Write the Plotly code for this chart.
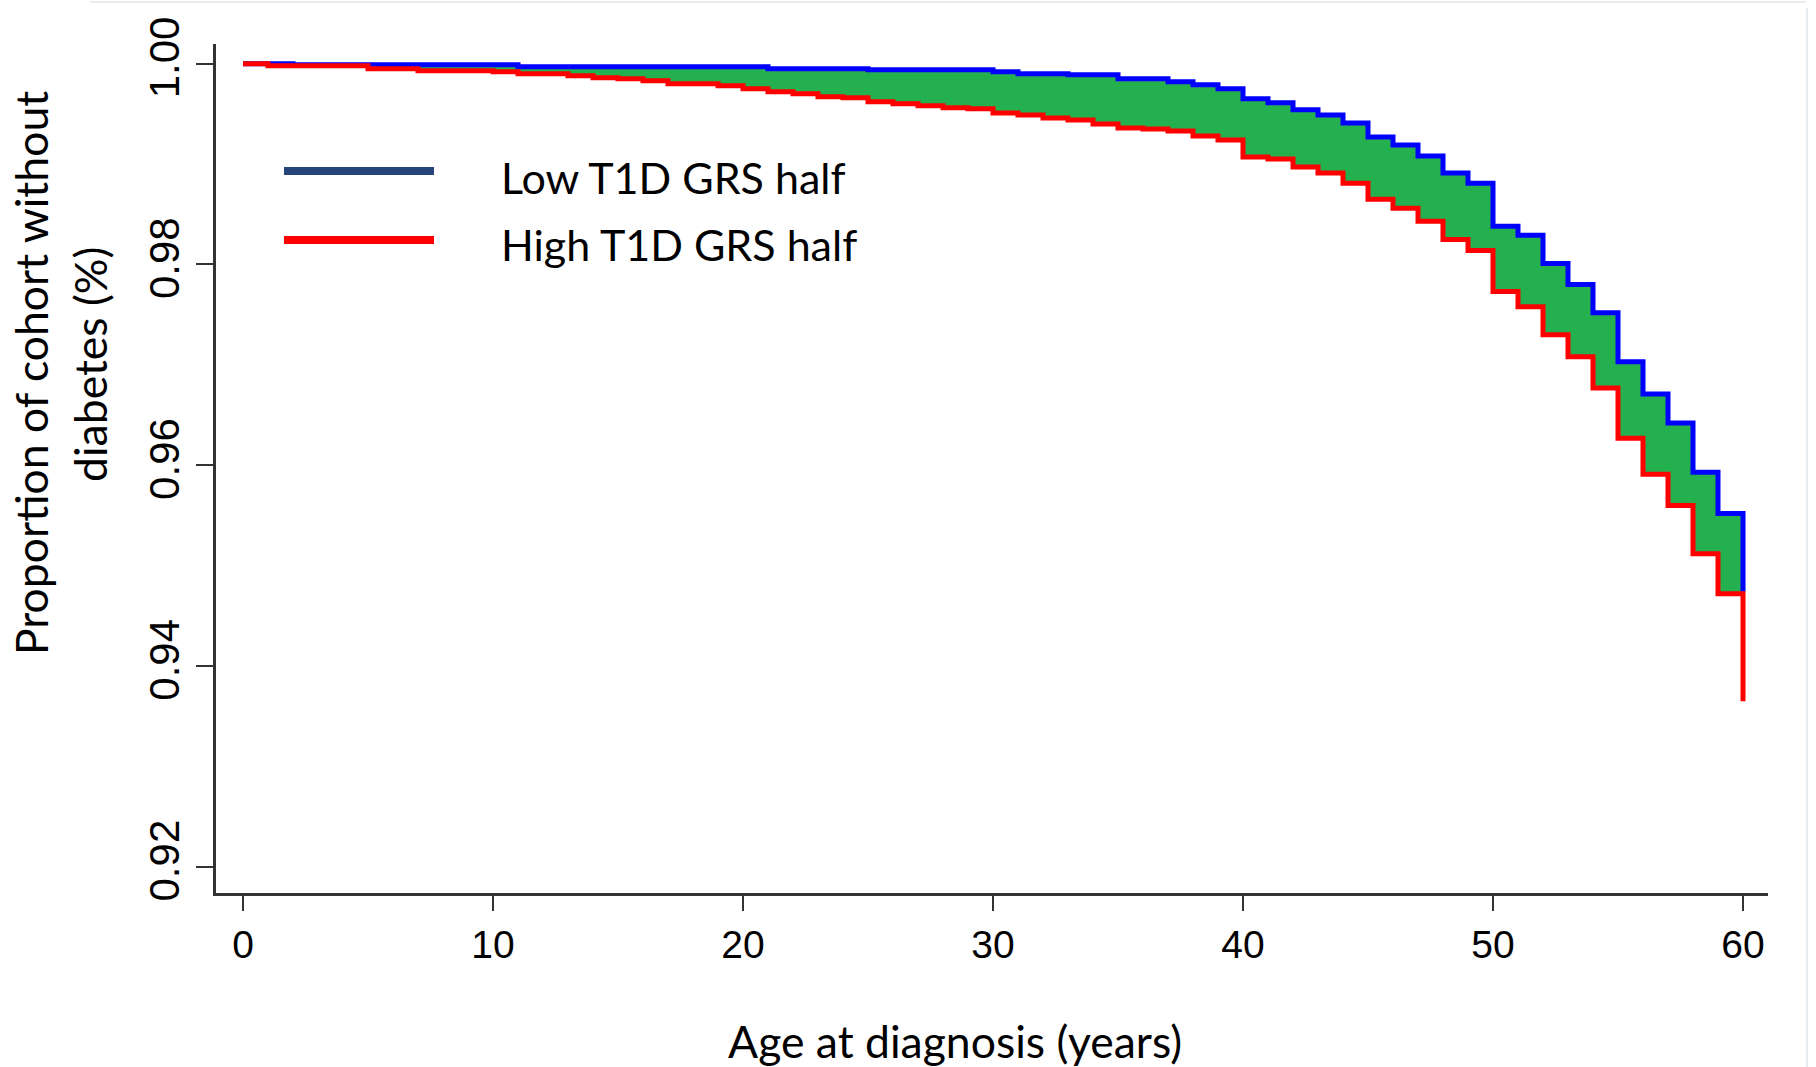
import plotly.graph_objects as go

ages = list(range(0, 61))
low_grs = [1.0000, 1.0000, 0.9999, 0.9999, 0.9999, 0.9999, 0.9999, 0.9999, 0.9999, 0.9999,
           0.9999, 0.9997, 0.9997, 0.9997, 0.9997, 0.9997, 0.9997, 0.9997, 0.9997, 0.9997,
           0.9997, 0.9995, 0.9995, 0.9995, 0.9995, 0.9994, 0.9994, 0.9994, 0.9994, 0.9994,
           0.9992, 0.9990, 0.9990, 0.9989, 0.9989, 0.9985, 0.9985, 0.9982, 0.9979, 0.9975,
           0.9965, 0.9961, 0.9954, 0.9949, 0.9941, 0.9927, 0.9919, 0.9908, 0.9891, 0.9881,
           0.9838, 0.9829, 0.9801, 0.9780, 0.9752, 0.9703, 0.9671, 0.9642, 0.9593, 0.9552,
           0.9474]
high_grs = [1.0000, 0.9998, 0.9998, 0.9998, 0.9998, 0.9995, 0.9995, 0.9993, 0.9993, 0.9993,
            0.9992, 0.9990, 0.9990, 0.9988, 0.9986, 0.9985, 0.9983, 0.9980, 0.9980, 0.9978,
            0.9975, 0.9972, 0.9970, 0.9967, 0.9966, 0.9962, 0.9960, 0.9958, 0.9956, 0.9955,
            0.9951, 0.9949, 0.9946, 0.9944, 0.9940, 0.9936, 0.9935, 0.9933, 0.9928, 0.9924,
            0.9907, 0.9905, 0.9897, 0.9891, 0.9881, 0.9865, 0.9856, 0.9843, 0.9825, 0.9814,
            0.9773, 0.9758, 0.9730, 0.9708, 0.9677, 0.9627, 0.9591, 0.9560, 0.9512, 0.9472,
            0.9365]
x_ticks = [0, 10, 20, 30, 40, 50, 60]
y_ticks = [0.92, 0.94, 0.96, 0.98, 1.00]
y_tick_labels = ["0.92", "0.94", "0.96", "0.98", "1.00"]
series_names = ["Low T1D GRS half", "High T1D GRS half"]

W, H = 1816, 1067
L, R, T, B = 216, 48, 44, 174
PW, PH = W - L - R, H - T - B


def px(x):
    return (x - L) / PW


def py(y):
    return (H - B - y) / PH


LABEL_FONT = "Lato, Open Sans, sans-serif"
TICK_FONT = "Liberation Sans, Arial, sans-serif"

fig = go.Figure()
# base for fill (invisible)
fig.add_trace(go.Scatter(x=ages, y=high_grs, mode="lines", line=dict(width=0, shape="hv", color="rgba(0,0,0,0)"),
                         showlegend=False, hoverinfo="skip"))
fig.add_trace(go.Scatter(x=ages, y=low_grs, mode="lines", name=series_names[0],
                         line=dict(width=5, shape="hv", color="#0000FF"),
                         fill="tonexty", fillcolor="#25B04F", showlegend=False))
fig.add_trace(go.Scatter(x=ages, y=high_grs, mode="lines", name=series_names[1],
                         line=dict(width=5, shape="hv", color="#FF0000"), showlegend=False))

fig.update_xaxes(range=[-1.08, 61.0], tickvals=x_ticks, ticks="outside", ticklen=15, tickwidth=2,
                 tickcolor="#333333", showline=True, linecolor="#333333", linewidth=2.5,
                 showgrid=False, zeroline=False,
                 tickfont=dict(family=TICK_FONT, size=39, color="black"))
fig.update_yaxes(range=[0.9174, 1.00196], tickvals=y_ticks, ticktext=y_tick_labels, ticks="outside",
                 ticklen=17, tickwidth=2, tickcolor="#333333", showline=True, linecolor="#333333",
                 linewidth=2.5, showgrid=False, zeroline=False, tickangle=-90,
                 tickfont=dict(family=TICK_FONT, size=42, color="black"))

annotations = [
    dict(text="Proportion of cohort without", x=px(30), y=py(373), xref="paper", yref="paper",
         textangle=-90, showarrow=False, xanchor="center", yanchor="middle",
         font=dict(family=LABEL_FONT, size=44.5, color="black")),
    dict(text="diabetes (%)", x=px(89), y=py(365), xref="paper", yref="paper",
         textangle=-90, showarrow=False, xanchor="center", yanchor="middle",
         font=dict(family=LABEL_FONT, size=44.5, color="black")),
    dict(text="Age at diagnosis (years)", x=px(955), y=py(1040), xref="paper", yref="paper",
         showarrow=False, xanchor="center", yanchor="middle",
         font=dict(family=LABEL_FONT, size=44.5, color="black")),
    dict(text=series_names[0], x=px(499), y=py(177), xref="paper", yref="paper",
         showarrow=False, xanchor="left", yanchor="middle",
         font=dict(family=LABEL_FONT, size=43, color="black")),
    dict(text=series_names[1], x=px(499), y=py(244), xref="paper", yref="paper",
         showarrow=False, xanchor="left", yanchor="middle",
         font=dict(family=LABEL_FONT, size=43, color="black")),
]

shapes = [
    dict(type="line", xref="paper", yref="paper", x0=px(284), x1=px(434), y0=py(171), y1=py(171),
         line=dict(color="#264478", width=8)),
    dict(type="line", xref="paper", yref="paper", x0=px(284), x1=px(434), y0=py(240), y1=py(240),
         line=dict(color="#FF0000", width=8)),
    dict(type="line", xref="paper", yref="paper", x0=px(90), x1=px(1806), y0=py(2), y1=py(2),
         line=dict(color="#E6ECEF", width=2)),
    dict(type="line", xref="paper", yref="paper", x0=px(1807), x1=px(1807), y0=py(8), y1=py(1067),
         line=dict(color="#E6ECEF", width=2)),
]

fig.update_layout(width=W, height=H, margin=dict(l=L, r=R, t=T, b=B),
                  paper_bgcolor="white", plot_bgcolor="white",
                  annotations=annotations, shapes=shapes, showlegend=False)

fig.write_html("out.html")
